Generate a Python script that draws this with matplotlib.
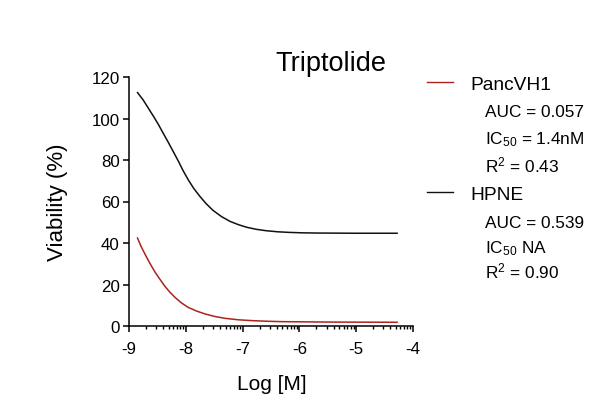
import numpy as np
import matplotlib
matplotlib.use("Agg")
import matplotlib.pyplot as plt
from matplotlib.lines import Line2D

plt.rcParams['font.family'] = ['Liberation Sans', 'DejaVu Sans']
plt.rcParams['mathtext.fontset'] = 'custom'
plt.rcParams['mathtext.rm'] = 'Liberation Sans'
plt.rcParams['mathtext.it'] = 'Liberation Sans:italic'
plt.rcParams['mathtext.bf'] = 'Liberation Sans:bold'
plt.rcParams['axes.unicode_minus'] = False

# ---- data ----
title = "Triptolide"
x_label = "Log [M]"
y_label = "Viability (%)"

series_names = ["PancVH1", "HPNE"]
series_colors = ["#AC231D", "#111111"]

panc_x = [-8.85, -8.79, -8.72, -8.63, -8.54, -8.45, -8.37, -8.28, -8.19, -8.08, -7.96,
          -7.81, -7.66, -7.49, -7.31, -7.08, -6.84, -6.58, -6.31, -5.9, -5.5, -4.9, -4.28]
panc_y = [42.4, 38.5, 34.7, 30.1, 25.9, 22.3, 19.2, 16.3, 13.8, 11.2, 9.0,
          7.2, 5.8, 4.6, 3.7, 3.0, 2.6, 2.3, 2.1, 2.0, 1.9, 1.85, 1.8]

hpne_x = [-8.85, -8.75, -8.66, -8.57, -8.48, -8.40, -8.31, -8.22, -8.13, -8.05, -7.96,
          -7.86, -7.75, -7.64, -7.52, -7.37, -7.22, -7.07, -6.93, -6.76, -6.58, -6.38,
          -6.17, -5.94, -5.70, -5.35, -5.0, -4.28]
hpne_y = [112.5, 108.9, 105.0, 101.1, 97.0, 93.0, 88.6, 84.0, 79.4, 75.0, 70.6,
          66.3, 62.4, 58.9, 55.7, 52.7, 50.4, 48.8, 47.6, 46.6, 45.9, 45.4,
          45.1, 44.9, 44.8, 44.75, 44.7, 44.7]

panc_stats = ["AUC = 0.057", r"IC$_{\mathrm{50}}$ = 1.4nM", r"R$^{\mathrm{2}}$ = 0.43"]
hpne_stats = ["AUC = 0.539", r"IC$_{\mathrm{50}}$ NA", r"R$^{\mathrm{2}}$ = 0.90"]

x_ticks = [-9, -8, -7, -6, -5, -4]
y_ticks = [0, 20, 40, 60, 80, 100, 120]

# ---- figure ----
W, H = 613, 402
fig = plt.figure(figsize=(W / 100, H / 100), dpi=100)

def fx(px):
    return px / W

def fy(py):
    return 1 - py / H

ax = fig.add_axes([fx(129), fy(327), fx(413) - fx(129), fy(78) - fy(327)])

ax.plot(hpne_x, hpne_y, color=series_colors[1], lw=1.1, solid_joinstyle='round')
ax.plot(panc_x, panc_y, color=series_colors[0], lw=1.1, solid_joinstyle='round')

ax.set_xlim(-9, -4)
ax.set_ylim(0, 120)
ax.set_xticks(x_ticks)
ax.set_xticklabels([str(t) for t in x_ticks])
ax.set_yticks(y_ticks)
ax.set_yticklabels([str(t) for t in y_ticks])
minor = [d + np.log10(k) for d in x_ticks[:-1] for k in range(2, 10)]
ax.set_xticks(minor, minor=True)

for s in ['top', 'right']:
    ax.spines[s].set_visible(False)
for s in ['left', 'bottom']:
    ax.spines[s].set_linewidth(1.1)
    ax.spines[s].set_color('black')

ax.tick_params(axis='both', which='major', direction='out', length=4.5, width=1.1,
               labelsize=12.2, colors='black')
ax.tick_params(axis='y', which='major', pad=2.2)
ax.tick_params(axis='x', which='major', pad=6.0)
ax.tick_params(axis='x', which='minor', direction='out', length=2.5, width=1.0)

# titles / labels
fig.text(fx(331), fy(70.7), title, ha='center', va='baseline', fontsize=19.5)
fig.text(fx(271.5), fy(390), x_label, ha='center', va='baseline', fontsize=15)
fig.text(fx(57.5), fy(202), y_label, ha='center', va='center', rotation=90, fontsize=16)

# legend (manual)
legend_line_y = [83, 193.3]
legend_name_base = [90, 200]
stat_bases = [[117.3, 144, 172.7], [228.3, 253.3, 278.3]]
all_stats = [panc_stats, hpne_stats]
for i in range(2):
    fig.add_artist(Line2D([fx(427), fx(453)], [fy(legend_line_y[i])] * 2,
                          color=series_colors[i], lw=1.0))
    fig.text(fx(470), fy(legend_name_base[i]), series_names[i], ha='left',
             va='baseline', fontsize=13.8)
    for s, b in zip(all_stats[i], stat_bases[i]):
        fig.text(fx(485), fy(b), s, ha='left', va='baseline', fontsize=12.4)

fig.savefig("out.png", dpi=100)
